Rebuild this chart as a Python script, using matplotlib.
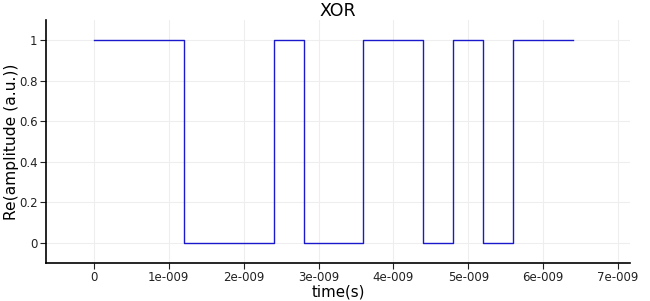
import matplotlib
matplotlib.use("Agg")
import matplotlib.pyplot as plt

# step edges (s) and levels
edges = [0, 1.2e-9, 2.4e-9, 2.8e-9, 3.6e-9, 4.4e-9, 4.8e-9, 5.2e-9, 5.6e-9, 6.4e-9]
levels = [1, 0, 1, 0, 1, 0, 1, 0, 1]
xticks = [0, 1e-9, 2e-9, 3e-9, 4e-9, 5e-9, 6e-9, 7e-9]
xticklabels = ["0", "1e-009", "2e-009", "3e-009", "4e-009", "5e-009", "6e-009", "7e-009"]
yticks = [0, 0.2, 0.4, 0.6, 0.8, 1]
yticklabels = ["0", "0.2", "0.4", "0.6", "0.8", "1"]

plt.rcParams['font.family'] = ['DejaVu Sans']
fig = plt.figure(figsize=(6.5, 3.01), dpi=100)
ax = fig.add_axes([46/650, 1-263/301, (630-46)/650, (263-20)/301])

xs = []
ys = []
for i, lv in enumerate(levels):
    xs += [edges[i], edges[i+1]]
    ys += [lv, lv]
ax.plot(xs, ys, color='#1a1acc', lw=1.0)

ax.set_xlim(-0.64e-9, 7.16e-9)
ax.set_ylim(-0.1, 1.1)
ax.set_xticks(xticks)
ax.set_xticklabels(xticklabels)
ax.set_yticks(yticks)
ax.set_yticklabels(yticklabels)
ax.tick_params(labelsize=8.5, length=4, width=0.8, pad=2, colors='#222222')
ax.grid(True, color='#eeeeee', lw=0.8)
ax.set_axisbelow(True)
for s in ['top', 'right']:
    ax.spines[s].set_visible(False)
ax.spines['left'].set_linewidth(1.2)
ax.spines['bottom'].set_linewidth(1.2)
ax.set_title("XOR", fontsize=12.5, pad=-1)
ax.set_xlabel("time(s)", fontsize=10.8, labelpad=0)
ax.set_ylabel("Re(amplitude (a.u.))", fontsize=11.2)
ax.yaxis.set_label_coords(-27/584, 0.5)
fig.savefig("out.png", dpi=100)
